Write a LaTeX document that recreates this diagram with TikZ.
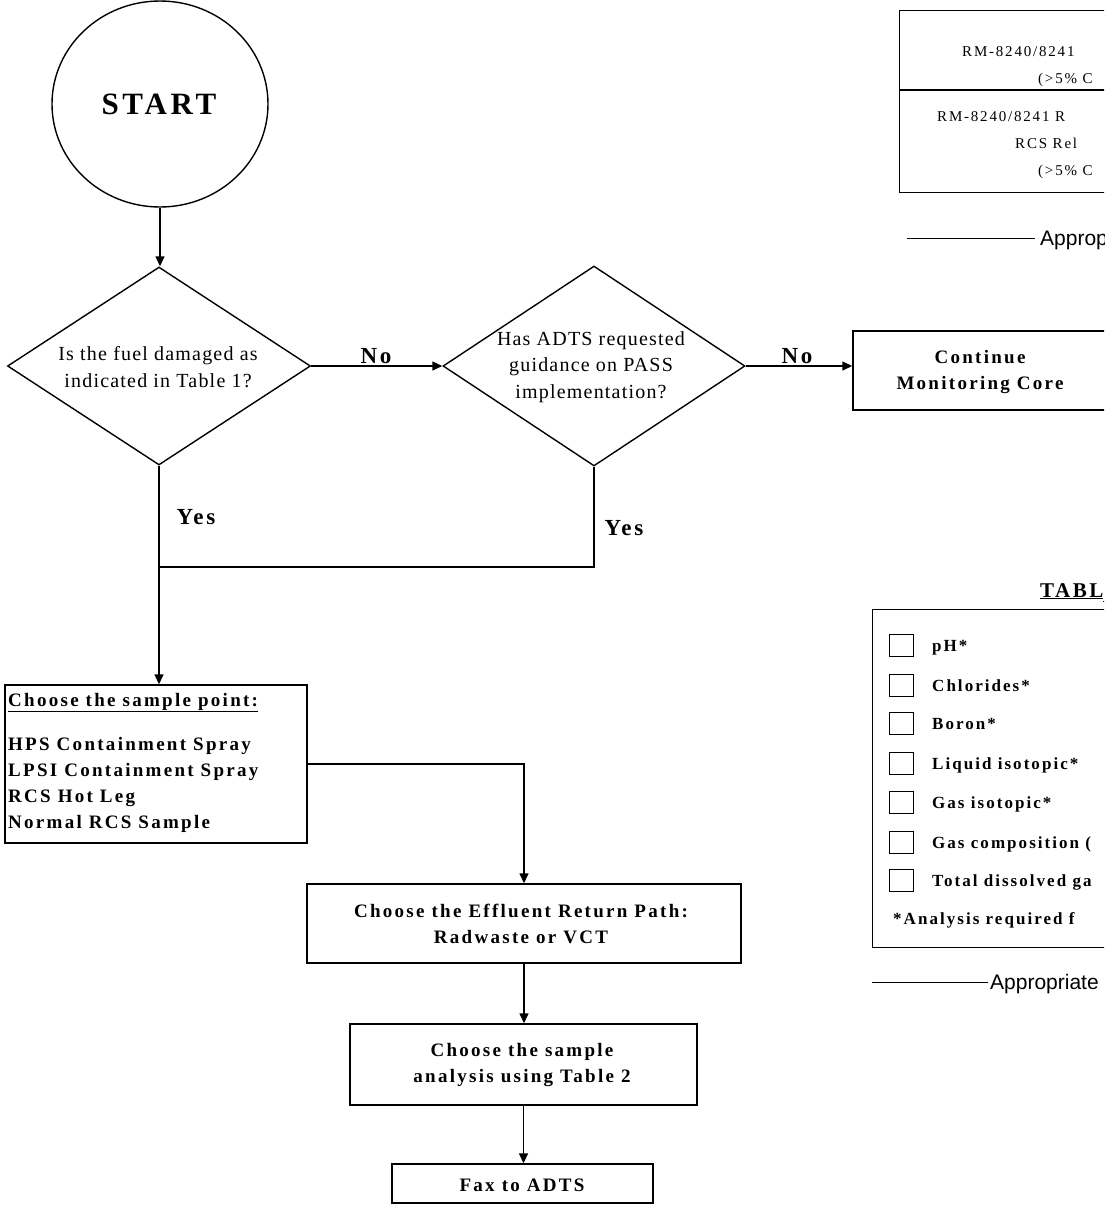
\documentclass[tikz,border=0pt]{standalone}
\usepackage{fontspec}
\setmainfont{Liberation Serif}
\newfontfamily\lsr[LetterSpace=6]{Liberation Serif}
\newfontfamily\lsb[LetterSpace=12]{Liberation Serif}
\newfontfamily\arialf{Liberation Sans}
\usetikzlibrary{shapes.geometric,arrows.meta}
\begin{document}
\begin{tikzpicture}[x=1pt,y=-1pt,
  flow/.style={line width=1.4pt},
  arr/.style={flow,-{Triangle[length=10pt,width=9pt]}},
  box/.style={draw,line width=1.4pt,inner sep=0pt},
  dia/.style={draw,diamond,line width=1.4pt,inner sep=0pt},
  btxt/.style={font=\fontsize{19}{26.5}\lsb\bfseries,align=center,inner sep=0pt},
  rtxt/.style={font=\fontsize{20}{26.5}\lsr,align=center,inner sep=0pt},
  lab/.style={font=\fontsize{23}{25}\lsb\bfseries,inner sep=0pt},
  ltxt/.style={font=\fontsize{19}{26}\lsb\bfseries,anchor=base west,inner sep=0pt},
  ttxt/.style={font=\fontsize{15}{20}\lsb,anchor=base west,inner sep=0pt},
  t2txt/.style={font=\fontsize{17}{20}\lsb\bfseries,anchor=base west,inner sep=0pt},
  stxt/.style={font=\fontsize{21}{24}\arialf,anchor=base west,inner sep=0pt},
  cbox/.style={draw,line width=1pt,minimum width=24pt,minimum height=22pt,inner sep=0pt}
]
\useasboundingbox (0,0) rectangle (1104,1205);
\clip (0,0) rectangle (1104,1205);

% START
\node[draw,ellipse,line width=1.4pt,minimum width=216pt,minimum height=206pt,inner sep=0pt] (start) at (160,104) {};
\node[font=\fontsize{31}{31}\lsb\bfseries,inner sep=0pt] (startt) at (159,104) {START};

% decisions
\node[dia,minimum width=303pt,minimum height=198pt] (d1) at (159,366) {};
\node[rtxt] (d1t) at (158,367) {Is the fuel damaged as\\indicated in Table 1?};
\node[dia,minimum width=302pt,minimum height=200pt] (d2) at (594,366) {};
\node[rtxt] (d2t) at (591,367) {Has ADTS requested\\guidance on PASS\\implementation?};

% boxes
\node[box,minimum width=255pt,minimum height=79pt] (cont) at (980.5,370.5) {};
\node[btxt] (contt) at (980,372) {Continue\\Monitoring Core};

\node[box,minimum width=302pt,minimum height=158pt] (sp) at (156,764) {};
\node[ltxt] (sph) at (8,706) {\underline{Choose the sample point:}};
\node[ltxt] (sp1) at (8,750) {HPS Containment Spray};
\node[ltxt] (sp2) at (8,776) {LPSI Containment Spray};
\node[ltxt] (sp3) at (8,802) {RCS Hot Leg};
\node[ltxt] (sp4) at (8,828) {Normal RCS Sample};

\node[box,minimum width=434pt,minimum height=79pt] (eff) at (524,923.5) {};
\node[btxt] (efft) at (521,924) {Choose the Effluent Return Path:\\Radwaste or VCT};

\node[box,minimum width=347pt,minimum height=81pt] (an) at (523.5,1064.5) {};
\node[btxt] (ant) at (522,1065) {Choose the sample\\analysis using Table 2};

\node[box,minimum width=261pt,minimum height=39pt] (fax) at (522.5,1183.5) {};
\node[btxt] (faxt) at (522,1185) {Fax to ADTS};

% connectors
\draw[arr] (start.south) -- (start.south |- d1.north);
\draw[arr] (d1.east) -- (d1.east -| d2.west);
\draw[arr] (d2.east) -- (d2.east -| cont.west);
\draw[arr] (d1.south) -- (d1.south |- sp.north);
\coordinate (j) at (159,567);
\draw[flow] (d2.south) |- (j);
\draw[arr] (sp.east) -| (eff.north);
\draw[arr] (eff.south) -- (eff.south |- an.north);
\draw[arr] (an.south) -- (an.south |- fax.north);

% labels
\node[lab] (no1) at (376,356) {No};
\node[lab] (no2) at (797,356) {No};
\node[lab] (yes1) at (196,517) {Yes};
\node[lab] (yes2) at (624,528) {Yes};

% Table 1 (top right)
\node[box,minimum width=212pt,minimum height=182pt,anchor=north west] (t1) at (899,10) {};
\draw[line width=1.2pt] (899,90) -- (1110,90);
\node[ttxt] (t1a) at (962,56) {RM-8240/8241};
\node[ttxt] (t1b) at (1038,83) {(>5\% C};
\node[ttxt] (t1c) at (937,121) {RM-8240/8241 R};
\node[ttxt] (t1d) at (1015,148) {RCS Rel};
\node[ttxt] (t1e) at (1038,175) {(>5\% C};
\draw[line width=1pt] (907,238) -- (1035,238);
\node[stxt] (ap1) at (1040,245) {Approp};

% Table 2
\node[font=\fontsize{21}{24}\lsb\bfseries,anchor=base west,inner sep=0pt] (t2h) at (1040,597) {\underline{TABL}\rule[-4.2pt]{20pt}{0.6pt}};
\node[box,minimum width=238pt,minimum height=338pt,anchor=north west] (t2) at (872,609) {};
\foreach \n/\c/\t in {a/645/pH*,b/685/Chlorides*,c/723/Boron*,d/763/Liquid isotopic*,e/802/Gas isotopic*,f/842/Gas composition (,g/880/Total dissolved ga}{
  \node[cbox] (cb\n) at (901,\c) {};
  \node[t2txt] (it\n) at (932,\c+6) {\t};
}
\node[t2txt] (t2n) at (893,924) {*Analysis required f};
\draw[line width=1pt] (872,982) -- (988,982);
\node[stxt] (ap2) at (990,989) {Appropriate};
\end{tikzpicture}
\end{document}
